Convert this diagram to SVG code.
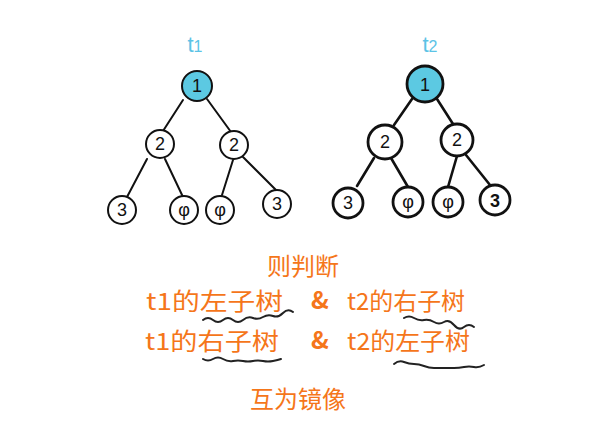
<svg xmlns="http://www.w3.org/2000/svg" width="611" height="425" viewBox="0 0 611 425">
<style>
.n1{fill:#fff;stroke:#111;stroke-width:2}
.n2{fill:#fff;stroke:#111;stroke-width:2.8}
.root{fill:#5cc9e2}
.lab{font-family:"Liberation Sans","Noto Sans",sans-serif;font-size:18px;fill:#111;text-anchor:middle}
.tl{font-family:"Liberation Sans",sans-serif;font-size:22px;fill:#5cc3e6;text-anchor:middle}
.or{font-family:"Noto Sans CJK SC",sans-serif;font-size:24px;fill:#f5761a}
.e{stroke:#111;stroke-width:2;fill:none;stroke-linecap:round}
.e2{stroke:#111;stroke-width:2.6;fill:none;stroke-linecap:round}
.w{stroke:#222;stroke-width:2;fill:none;stroke-linecap:round}
</style>
<rect width="611" height="425" fill="#fff"/>
<g id="connectors">
<line class="e" x1="183" y1="100" x2="163" y2="131"/>
<line class="e" x1="207" y1="99" x2="231" y2="132"/>
<line class="e" x1="147" y1="159" x2="127" y2="197"/>
<line class="e" x1="165" y1="159" x2="183" y2="197"/>
<line class="e" x1="233" y1="160" x2="222" y2="195"/>
<line class="e" x1="243" y1="157" x2="276" y2="190"/>
<line class="e2" x1="412" y1="99" x2="394" y2="125"/>
<line class="e2" x1="437" y1="99" x2="453" y2="124"/>
<line class="e2" x1="374" y1="158" x2="357" y2="186"/>
<line class="e2" x1="391" y1="158" x2="408" y2="187"/>
<line class="e2" x1="457" y1="156" x2="448" y2="187"/>
<line class="e2" x1="466" y1="155" x2="490" y2="185"/>
</g>
<g id="t1-label"><text class="tl" x="195" y="52">t<tspan font-size="16">1</tspan></text></g>
<g id="t1-root"><circle class="n1 root" cx="197" cy="86" r="15"/><text class="lab" x="197" y="92">1</text></g>
<g id="t1-l"><circle class="n1" cx="160" cy="144" r="14"/><text class="lab" x="160" y="150">2</text></g>
<g id="t1-r"><circle class="n1" cx="234" cy="145" r="14"/><text class="lab" x="234" y="151">2</text></g>
<g id="t1-ll"><circle class="n1" cx="122" cy="210" r="14"/><text class="lab" x="122" y="216">3</text></g>
<g id="t1-lr"><circle class="n1" cx="184" cy="210" r="14"/><text class="lab" x="184" y="216">φ</text></g>
<g id="t1-rl"><circle class="n1" cx="220" cy="210" r="14"/><text class="lab" x="220" y="216">φ</text></g>
<g id="t1-rr"><circle class="n1" cx="277" cy="204" r="14"/><text class="lab" x="277" y="210">3</text></g>
<g id="t2-label"><text class="tl" x="430" y="52">t<tspan font-size="16">2</tspan></text></g>
<g id="t2-root"><circle class="n2 root" cx="425" cy="84" r="18"/><text class="lab" x="425" y="91">1</text></g>
<g id="t2-l"><circle class="n2" cx="385" cy="142" r="17"/><text class="lab" x="385" y="148">2</text></g>
<g id="t2-r"><circle class="n2" cx="457" cy="140" r="16"/><text class="lab" x="457" y="146">2</text></g>
<g id="t2-ll"><circle class="n2" cx="348" cy="203" r="15"/><text class="lab" x="348" y="209">3</text></g>
<g id="t2-lr"><circle class="n2" cx="408" cy="202" r="15"/><text class="lab" x="408" y="208">φ</text></g>
<g id="t2-rl"><circle class="n2" cx="448" cy="202" r="15"/><text class="lab" x="448" y="208">φ</text></g>
<g id="t2-rr"><circle class="n2" cx="495" cy="200" r="15"/><text class="lab" x="495" y="207" font-weight="bold">3</text></g>
<g id="text">
<text class="or" x="303" y="275" text-anchor="middle" font-size="26">则判断</text>
<text class="or" x="146" y="310" textLength="137" lengthAdjust="spacingAndGlyphs">t1的左子树</text>
<text class="or" x="311" y="309" font-size="20" font-weight="bold">&amp;</text>
<text class="or" x="347" y="310" textLength="118" lengthAdjust="spacingAndGlyphs">t2的右子树</text>
<text class="or" x="145" y="350" textLength="134" lengthAdjust="spacingAndGlyphs">t1的右子树</text>
<text class="or" x="311" y="349" font-size="20" font-weight="bold">&amp;</text>
<text class="or" x="347" y="350" textLength="123" lengthAdjust="spacingAndGlyphs">t2的左子树</text>
<text class="or" x="298" y="408" text-anchor="middle" font-size="25">互为镜像</text>
</g>
<g id="underlines">
<path class="w" d="M203 320 q5 -4 10 0 t10 0 t10 0 t10 0 t10 -2 t10 -1 t10 -1 t10 -3 t10 -1"/>
<path class="w" d="M404 318 q5 -3 10 0 t10 2 t10 2 t10 0 t10 3 t10 2 t10 0"/>
<path class="w" d="M203 359 q5 3 10 0 t10 0 t10 2 t10 0 t10 0 t10 0 t10 0 t8 -2"/>
<path class="w" d="M394 364 q5 -4 10 -2 t10 2 t10 2 t10 2 t10 0 t10 0 t10 -1 t10 0 t10 -2"/>
</g>
</svg>
